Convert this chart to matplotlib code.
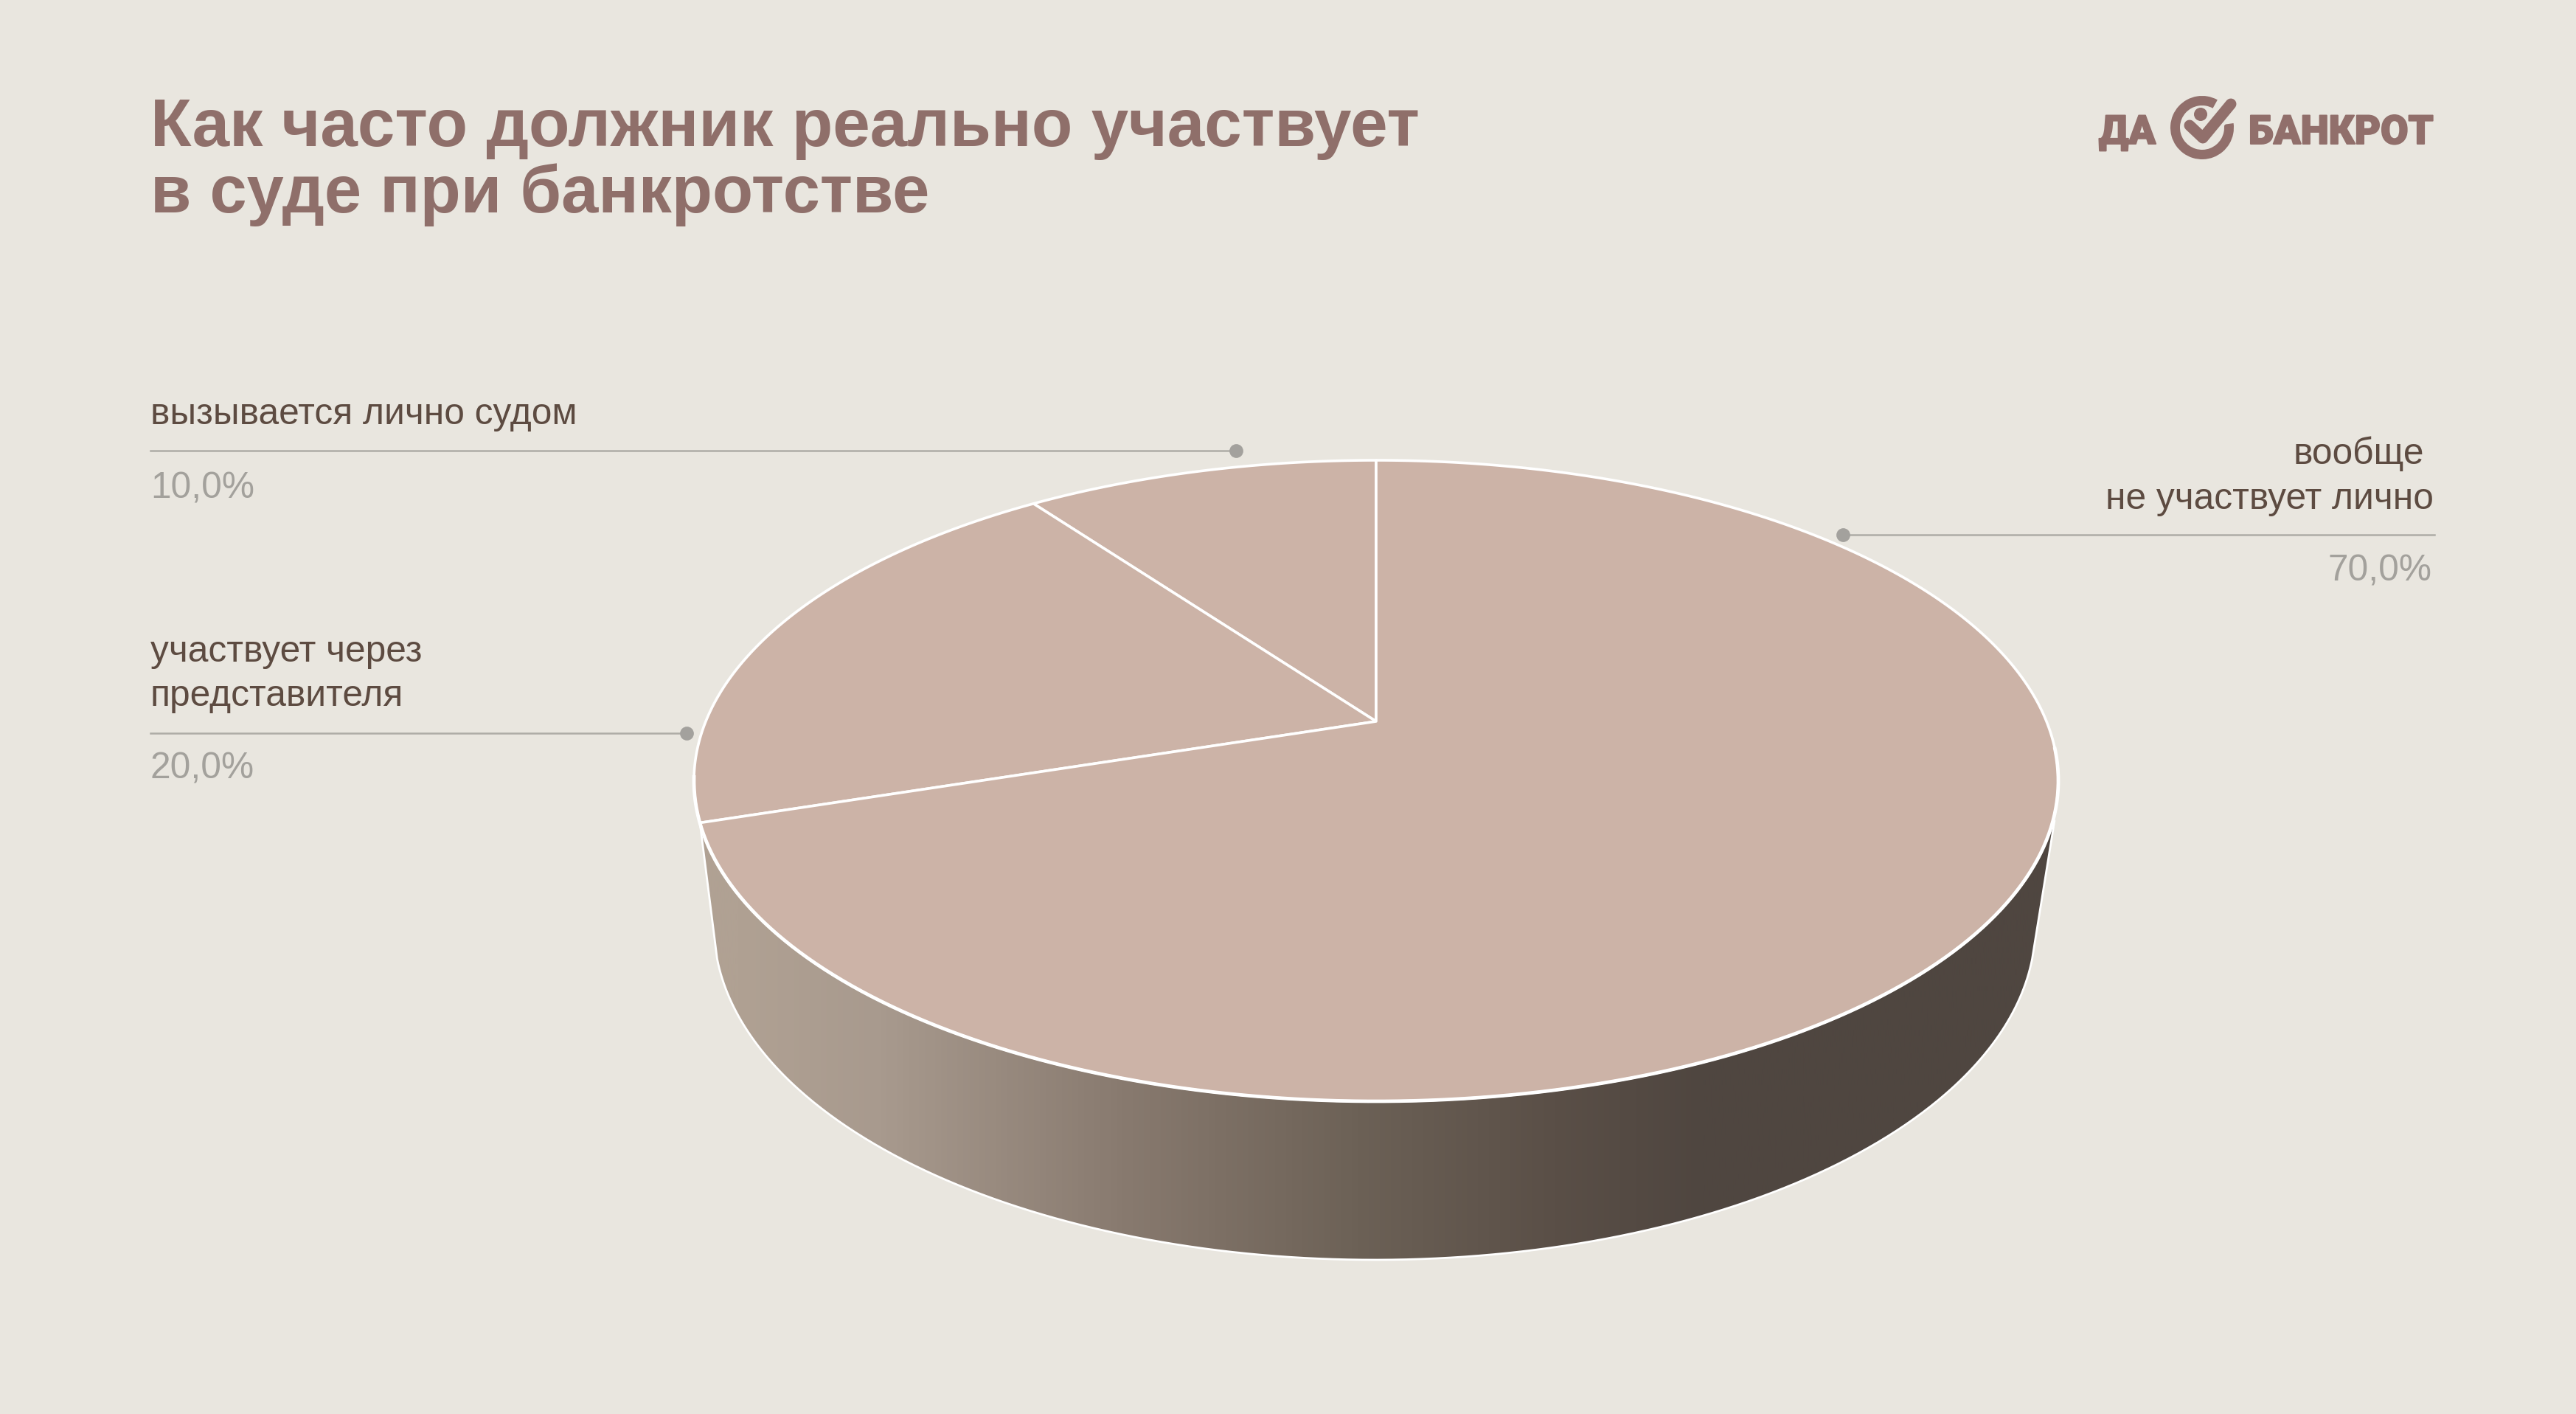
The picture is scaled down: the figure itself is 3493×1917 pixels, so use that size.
import numpy as np
import matplotlib
matplotlib.use('Agg')
import matplotlib.pyplot as plt
import matplotlib.patheffects as pe
from matplotlib.colors import LinearSegmentedColormap
from matplotlib.patches import Polygon, Wedge, Circle

W, H = 3493, 1917

BG = '#e9e6df'
TITLE_COL = '#8f6f6a'
TEXT_COL = '#5d4b41'
PCT_COL = '#a3a19c'
LINE_COL = '#aeaca6'
DOT_COL = '#a3a19d'
TOP_COL = '#ccb3a7'

# slices clockwise from 12 o'clock, as on the picture
labels = ['вызывается лично судом', 'участвует через\nпредставителя', 'вообще\nне участвует лично']
shares = [10, 20, 70]
pct_labels = ['10,0%', '20,0%', '70,0%']

# perspective of the disc, in pixels
CX, APEX_Y = 1866, 978
AX, BY, K = 909, 419.6, 0.1853
# lower rim of the wall
LOW_CX, LOW_CY, LOW_RX, LOW_RY = 1864, 1255, 896, 453
# side gradient: pixel x and colour
GRAD_X = [950, 1000, 1190, 1534, 1844, 2108, 2310, 2850]
GRAD_COL = ['#b0a193', '#b0a193', '#a89a8e', '#87796e', '#6c6156', '#5a4f47', '#4f4640', '#4f4640']


def project(t):
    u, v = np.cos(t), np.sin(t)
    d = 1 + K * v
    return CX + AX * u / d, APEX_Y - BY * v / d


plt.rcParams['font.family'] = ['Liberation Sans', 'DejaVu Sans']
fig = plt.figure(figsize=(W / 100, H / 100), dpi=100, facecolor=BG)
ax = fig.add_axes([0, 0, 1, 1])
ax.set_facecolor(BG)
ax.axis('off')

# side wall with the horizontal gradient
t0 = np.arcsin((1300 - LOW_CY) / LOW_RY)
t = np.linspace(t0, np.pi - t0, 400)
lx = LOW_CX + LOW_RX * np.cos(t)
ly = LOW_CY + LOW_RY * np.sin(t)
jr = np.array([2786, 1112])
jl = np.array([949, 1115])
side_pts = np.vstack([jr, np.column_stack([lx, ly]), jl])
side = Polygon(side_pts, closed=True, facecolor='none', edgecolor='none')
ax.add_patch(side)
span = GRAD_X[-1] - GRAD_X[0]
cmap = LinearSegmentedColormap.from_list(
    'side', [((x - GRAD_X[0]) / span, c) for x, c in zip(GRAD_X, GRAD_COL)])
grad = ax.imshow(np.linspace(0, 1, 1024).reshape(1, -1), cmap=cmap, aspect='auto',
                 extent=(GRAD_X[0], GRAD_X[-1], H, 0), zorder=1)
grad.set_clip_path(side)
ax.add_patch(Polygon(side_pts, closed=False, facecolor='none', edgecolor='white',
                     linewidth=2, zorder=2))

# top of the disc: slices from the shares
start = np.pi / 2
for s in shares:
    end = start + 2 * np.pi * s / sum(shares)
    tt = np.linspace(start, end, 400)
    x, y = project(tt)
    pts = np.column_stack([np.r_[CX, x], np.r_[APEX_Y, y]])
    ax.add_patch(Polygon(pts, closed=True, facecolor=TOP_COL, edgecolor='white',
                         linewidth=2.6, joinstyle='round', zorder=3))
    start = end
# front edge of the top is drawn a bit heavier
fx, fy = project(np.linspace(np.radians(190), np.radians(355), 300))
ax.plot(fx, fy, color='white', lw=3.4, zorder=4)

# titles
ax.text(204, 198, 'Как часто должник реально участвует', fontsize=65.4, fontweight='bold',
        color=TITLE_COL, va='baseline', ha='left')
ax.text(204, 288, 'в суде при банкротстве', fontsize=65, fontweight='bold',
        color=TITLE_COL, va='baseline', ha='left')

# callouts
FS = 35.7
ax.text(204, 575, labels[0], fontsize=FS, color=TEXT_COL, va='baseline')
ax.plot([204, 1676], [611, 611], color=LINE_COL, lw=1.8, zorder=4)
ax.plot([1676], [611], 'o', color=DOT_COL, ms=13.5, mew=0, zorder=5)
ax.text(204, 675, pct_labels[0], fontsize=FS, color=PCT_COL, va='baseline')

lab1 = labels[1].split('\n')
ax.text(204, 897, lab1[0], fontsize=FS, color=TEXT_COL, va='baseline')
ax.text(204, 957, lab1[1], fontsize=FS, color=TEXT_COL, va='baseline')
ax.plot([204, 931], [994, 994], color=LINE_COL, lw=1.8, zorder=4)
ax.plot([931], [994], 'o', color=DOT_COL, ms=13.5, mew=0, zorder=5)
ax.text(204, 1055, pct_labels[1], fontsize=FS, color=PCT_COL, va='baseline')

lab2 = labels[2].split('\n')
ax.text(3287, 629, lab2[0], fontsize=FS, color=TEXT_COL, va='baseline', ha='right')
ax.text(3300, 690, lab2[1], fontsize=FS, color=TEXT_COL, va='baseline', ha='right')
ax.plot([2499, 3301], [725, 725], color=LINE_COL, lw=1.8, zorder=4)
ax.plot([2499], [725], 'o', color=DOT_COL, ms=13.5, mew=0, zorder=5)
ax.text(3298, 787, pct_labels[2], fontsize=FS, color=PCT_COL, va='baseline', ha='right')

# logo
LOGO = '#916f6b'
heavy = [pe.withStroke(linewidth=1.4, foreground=LOGO)]
ax.text(2846, 195, 'ДА', fontsize=39, fontweight='black', family=['Roboto', 'DejaVu Sans'],
        color=LOGO, va='baseline', path_effects=heavy)
ax.text(3049, 195, 'БАНКРОТ', fontsize=39, fontweight='black', family=['Roboto', 'DejaVu Sans'],
        color=LOGO, va='baseline', path_effects=heavy)
ax.add_patch(Wedge((2986, 173), 43, -8, 299, width=13, facecolor=LOGO, edgecolor='none', zorder=6))
ax.plot([2969, 2987, 3025], [170, 187, 141], color=BG, lw=17, solid_capstyle='round',
        solid_joinstyle='round', zorder=7)
ax.plot([2969, 2987, 3025], [170, 187, 141], color=LOGO, lw=10.8, solid_capstyle='round',
        solid_joinstyle='round', zorder=8)
ax.add_patch(Circle((2984, 155), 9, facecolor=LOGO, edgecolor='none', zorder=8))

ax.set_xlim(0, W)
ax.set_ylim(H, 0)
fig.savefig('out.png', dpi=100, facecolor=BG)
